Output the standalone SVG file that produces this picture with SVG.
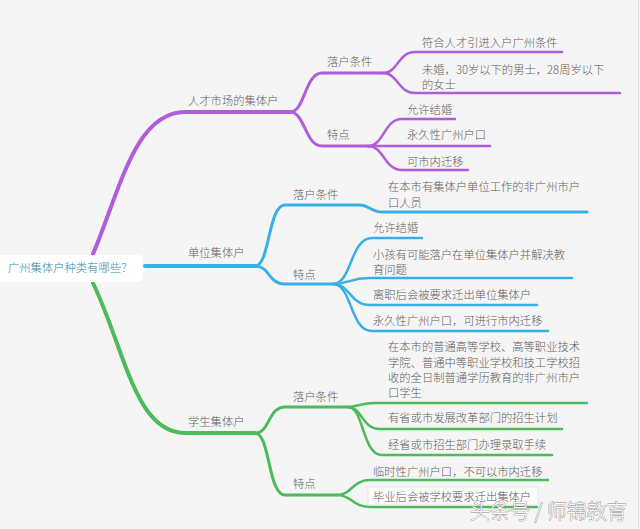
<svg xmlns="http://www.w3.org/2000/svg" width="640" height="529" viewBox="0 0 640 529">
<style>
.t{font-family:"Noto Sans CJK SC","Noto Sans",sans-serif;font-size:11.3px;font-weight:300;fill:#5e5e5e}
.p{stroke:#b05ddc;fill:none;stroke-linecap:round}
.b{stroke:#3aaee6;fill:none;stroke-linecap:round}
.g{stroke:#4dbb5b;fill:none;stroke-linecap:round}
.w1{stroke-width:4}
.w2{stroke-width:3}
.w3{stroke-width:2.5}
</style>
<rect width="640" height="529" fill="#f5f5f5"/>
<line x1="638.5" y1="0" x2="638.5" y2="529" stroke="#e0e0e0" stroke-width="1"/>
<g id="connectors">
<path class="p w1" d="M93,254 C120,190 135,112 185,112 H290"/>
<path class="p w2" d="M290,112 C305,112 305,73 322,73 H383"/>
<path class="p w2" d="M290,112 C305,112 305,146 322,146 H368"/>
<path class="p w3" d="M383,73 C398,73 398,52 415,52 H562"/>
<path class="p w3" d="M383,73 C398,73 398,93 415,93 H620"/>
<path class="p w3" d="M368,146 C384,146 384,119 402,119 H455"/>
<path class="p w3" d="M368,146 H490"/>
<path class="p w3" d="M368,146 C384,146 384,170 402,170 H468"/>
<path class="b w1" d="M145,266 H255"/>
<path class="b w2" d="M255,266 C270,266 268,205 285,205 H360 C368,205 372,212 382,212 H587"/>
<path class="b w2" d="M255,266 C270,266 268,284 285,284 H333"/>
<path class="b w3" d="M333,284 C352,284 350,238 372,238 H422"/>
<path class="b w3" d="M333,284 C348,284 350,278 370,278 H572"/>
<path class="b w3" d="M333,284 C350,284 350,305 370,305 H537"/>
<path class="b w3" d="M333,284 C352,284 350,331 372,331 H548"/>
<path class="g w1" d="M93,283 C125,350 135,433 185,433 H255"/>
<path class="g w2" d="M255,433 C270,433 268,407 285,407 H348"/>
<path class="g w2" d="M255,433 C270,433 268,495 285,495 H337"/>
<path class="g w3" d="M348,407 C358,407 360,403 375,403 H587"/>
<path class="g w3" d="M348,407 C362,407 362,429 380,429 H562"/>
<path class="g w3" d="M348,407 C364,407 362,455 382,455 H552"/>
<path class="g w3" d="M337,495 C352,495 352,480 370,480 H548"/>
<path class="g w3" d="M337,495 C352,495 352,507 370,507 H537"/>
</g>
<g id="root">
<rect x="-4" y="255" width="147" height="27" rx="5" fill="#ffffff"/>
<text x="8" y="272" font-family="Noto Sans CJK SC,sans-serif" font-size="11.3" font-weight="300" fill="#2f87a8">广州集体户种类有哪些？</text>
</g>
<g id="n-rencai"><text class="t" x="188" y="105">人才市场的集体户</text></g>
<g id="n-rc-lhtj"><text class="t" x="327" y="66">落户条件</text></g>
<g id="n-rc-l1"><text class="t" x="422" y="47">符合人才引进入户广州条件</text></g>
<g id="n-rc-l2"><text class="t" x="422" y="74">未婚，30岁以下的男士，28周岁以下</text><text class="t" x="422" y="89">的女士</text></g>
<g id="n-rc-td"><text class="t" x="327" y="139">特点</text></g>
<g id="n-rc-t1"><text class="t" x="407" y="114">允许结婚</text></g>
<g id="n-rc-t2"><text class="t" x="407" y="139">永久性广州户口</text></g>
<g id="n-rc-t3"><text class="t" x="407" y="166">可市内迁移</text></g>
<g id="n-danwei"><text class="t" x="188" y="257">单位集体户</text></g>
<g id="n-dw-lhtj"><text class="t" x="293" y="199">落户条件</text></g>
<g id="n-dw-l1"><text class="t" x="388" y="191">在本市有集体户单位工作的非广州市户</text><text class="t" x="388" y="207">口人员</text></g>
<g id="n-dw-td"><text class="t" x="293" y="279">特点</text></g>
<g id="n-dw-t1"><text class="t" x="373" y="232">允许结婚</text></g>
<g id="n-dw-t2"><text class="t" x="373" y="259">小孩有可能落户在单位集体户并解决教</text><text class="t" x="373" y="274">育问题</text></g>
<g id="n-dw-t3"><text class="t" x="373" y="299">离职后会被要求迁出单位集体户</text></g>
<g id="n-dw-t4"><text class="t" x="373" y="325">永久性广州户口，可进行市内迁移</text></g>
<g id="n-xuesheng"><text class="t" x="188" y="426">学生集体户</text></g>
<g id="n-xs-lhtj"><text class="t" x="293" y="401">落户条件</text></g>
<g id="n-xs-l1"><text class="t" x="388" y="351">在本市的普通高等学校、高等职业技术</text><text class="t" x="388" y="367">学院、普通中等职业学校和技工学校招</text><text class="t" x="388" y="382">收的全日制普通学历教育的非广州市户</text><text class="t" x="388" y="397">口学生</text></g>
<g id="n-xs-l2"><text class="t" x="388" y="422">有省或市发展改革部门的招生计划</text></g>
<g id="n-xs-l3"><text class="t" x="388" y="449">经省或市招生部门办理录取手续</text></g>
<g id="n-xs-td"><text class="t" x="293" y="488">特点</text></g>
<g id="n-xs-t1"><text class="t" x="373" y="476">临时性广州户口，不可以市内迁移</text></g>
<g id="n-xs-t2"><rect x="368" y="487" width="170" height="18" fill="#fbfbfb" stroke="#e6e6e6" stroke-width="1"/><text class="t" x="373" y="501">毕业后会被学校要求迁出集体户</text></g>
<text x="470" y="519" font-family="Noto Sans CJK SC,sans-serif" font-size="20" font-weight="300" fill="#ffffff" stroke="#8a8a8a" stroke-width="0.8" paint-order="stroke">头条号 / 师锦教育</text>
</svg>
